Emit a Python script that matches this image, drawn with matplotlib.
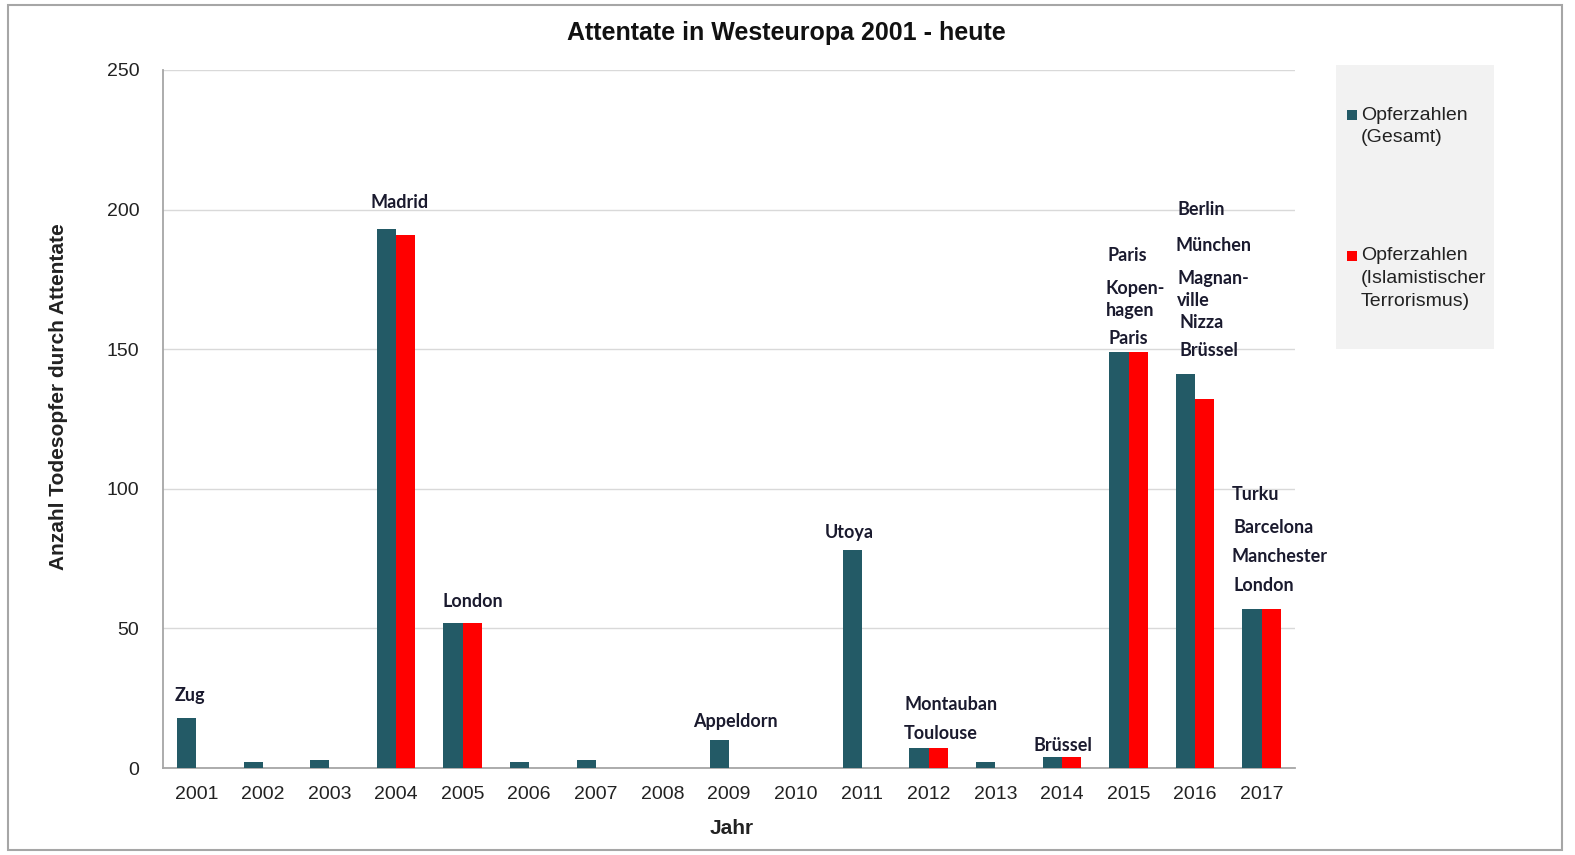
import matplotlib
matplotlib.use("Agg")
import matplotlib.pyplot as plt
from matplotlib.patches import Rectangle
import numpy as np

years = ["2001", "2002", "2003", "2004", "2005", "2006", "2007", "2008", "2009",
         "2010", "2011", "2012", "2013", "2014", "2015", "2016", "2017"]
gesamt = [18, 2, 3, 193, 52, 2, 3, 0, 10, 0, 78, 7, 2, 4, 149, 141, 57]
islam = [0, 0, 0, 191, 52, 0, 0, 0, 0, 0, 0, 7, 0, 4, 149, 132, 57]

# annotation texts with anchor (x in category units, y in data units)
annot_text = ["Zug", "Madrid", "London", "Appeldorn", "Utoya", "Montauban", "Toulouse",
              "Brüssel", "Paris", "Kopen-", "hagen", "Paris", "Berlin", "München",
              "Magnan-", "ville", "Nizza", "Brüssel", "Turku", "Barcelona", "Manchester", "London"]
annot_x = [-0.32, 2.62, 3.70, 7.46, 9.44, 10.64, 10.63, 12.58, 13.69, 13.66, 13.66, 13.70,
           14.74, 14.71, 14.74, 14.73, 14.77, 14.77, 15.55, 15.57, 15.55, 15.58]
annot_y = [25.8, 202.7, 59.8, 16.8, 84.2, 22.6, 12.5, 8.2, 183.4, 171.6, 163.7, 154.0,
           200.2, 187.3, 175.5, 167.3, 159.4, 149.7, 98.1, 86.0, 75.9, 65.5]

teal = "#235a66"
red = "#ff0000"
sans = ["Liberation Sans", "DejaVu Sans"]
calib = ["Lato", "DejaVu Sans"]

fig = plt.figure(figsize=(15.75, 8.55), dpi=100)
fig.patch.set_facecolor("white")
W, H = 1575, 855
ax = fig.add_axes([163 / W, (H - 768) / H, (1295 - 163) / W, (768 - 70) / H])

x = np.arange(len(years))
bw = 0.29
ax.bar(x - bw / 2, gesamt, width=bw, color=teal, label="Opferzahlen (Gesamt)", zorder=3)
ax.bar(x + bw / 2, islam, width=bw, color=red, label="Opferzahlen (Islamistischer Terrorismus)", zorder=3)

ax.set_xlim(-0.5, len(years) - 0.5)
ax.set_ylim(0, 250)
ax.set_yticks(np.arange(0, 251, 50))
ax.set_xticks(x)
ax.set_xticklabels(years, fontsize=14, family=sans, color="#222222")
for lab in ax.get_yticklabels():
    lab.set_fontsize(14)
    lab.set_family(sans)
    lab.set_color("#222222")
ax.tick_params(axis="both", length=0)
ax.tick_params(axis="y", pad=17)
ax.tick_params(axis="x", pad=13)
ax.yaxis.grid(True, color="#d9d9d9", linewidth=1, zorder=0)
ax.set_axisbelow(True)
for s in ["top", "right"]:
    ax.spines[s].set_visible(False)
for s in ["left", "bottom"]:
    ax.spines[s].set_color("#a6a6a6")
    ax.spines[s].set_linewidth(1.3)

ax.set_ylabel("Anzahl Todesopfer durch Attentate", fontsize=15, fontweight="bold",
              family=sans, color="#222222", labelpad=0)
ax.yaxis.set_label_coords((59 - 163) / (1295 - 163), (768 - 397) / (768 - 70))
ax.set_xlabel("Jahr", fontsize=15, fontweight="bold", family=sans, color="#222222")
ax.xaxis.set_label_coords((732 - 163) / (1295 - 163), -(828 - 768) / (768 - 70))
ax.xaxis.label.set_va("center")
ax.yaxis.label.set_va("center")

for t, xa, ya in zip(annot_text, annot_x, annot_y):
    ax.text(xa, ya, t, ha="left", va="center", fontsize=13, fontweight="bold",
            family=calib, color="#1a1a2e", zorder=4)

fig.text(786 / W, 1 - 33 / H, "Attentate in Westeuropa 2001 - heute", ha="center", va="center",
         fontsize=18, fontweight="bold", family=sans, color="#111111")

# outer frame
fig.patches.append(Rectangle((8 / W, 1 - 850 / H), (1562 - 8) / W, (850 - 5) / H,
                             transform=fig.transFigure, fill=False, edgecolor="#a6a6a6",
                             linewidth=1.5))
# legend box
fig.patches.append(Rectangle((1336 / W, 1 - 349 / H), (1494 - 1336) / W, (349 - 65) / H,
                             transform=fig.transFigure, facecolor="#f2f2f2", edgecolor="none"))
leg_items = [(teal, ["Opferzahlen", "(Gesamt)"], 115), (red, ["Opferzahlen", "(Islamistischer", "Terrorismus)"], 256)]
for col, lines, ytop in leg_items:
    fig.patches.append(Rectangle((1347 / W, 1 - (ytop + 5) / H), 10 / W, 10 / H,
                                 transform=fig.transFigure, facecolor=col, edgecolor="none"))
    for k, ln in enumerate(lines):
        fig.text(1361 / W, 1 - (ytop + 22.5 * k) / H, ln, ha="left", va="center",
                 fontsize=14, family=sans, color="#222222")

fig.savefig("out.png", dpi=100)
